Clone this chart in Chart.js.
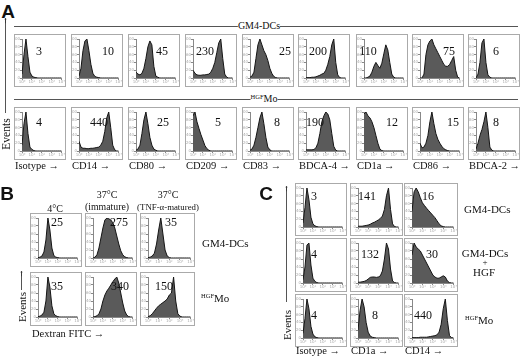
<!DOCTYPE html>
<html>
<head>
<meta charset="utf-8">
<script src="https://cdn.jsdelivr.net/npm/chart.js@4.4.1/dist/chart.umd.min.js"></script>
<style>
body { margin:0; width:520px; height:358px; position:relative; background:#fff; overflow:hidden; font-family:"Liberation Serif", "Times New Roman", serif; color:#111; }
.box { position:absolute; border:1px solid #aaa; box-sizing:border-box; background:#fff; }
.box canvas { display:block; }
.t { position:absolute; white-space:nowrap; line-height:1; }
.hl { position:absolute; height:0; border-top:1px solid #555; }
.vl { position:absolute; width:0; border-left:1px solid #555; }
.letter { font-family:"Liberation Sans", Arial, sans-serif; font-weight:bold; font-size:19px; }
sup { font-size:6.5px; vertical-align:top; position:relative; top:0px; }
</style>
</head>
<body>
<script>
// log axis: 21 bins over 4 decades
const bins = [0,1,2,3,4,5,6,7,8,9,10,11,12,13,14,15,16,17,18,19,20]
const decades = ['10⁰','10¹','10²','10³','10⁴']

// ---- panel A ----
const aMarkers = ['Isotype','CD14','CD80','CD209','CD83','BDCA-4','CD1a','CD86','BDCA-2']
const aMfiGM4 = [3,10,45,230,25,200,110,75,6]
const aMfiHGFMo = [4,440,25,5,8,190,12,15,8]

const gm4Isotype = [10,60,100,55,15,5,2,1,0,0,0,0,0,0,0,0,0,0,0,0,0]
const gm4CD14    = [5,25,70,95,100,70,35,12,4,2,1,0,0,0,0,0,0,0,0,0,0]
const gm4CD80    = [15,10,8,12,25,50,80,95,85,30,5,2,0,0,0,0,0,0,0,0,0]
const gm4CD209   = [20,12,8,7,7,8,8,9,10,15,25,40,65,90,100,50,10,2,0,0,0]
const gm4CD83    = [2,5,15,50,85,100,85,70,60,45,25,12,4,1,0,0,0,0,0,0,0]
const gm4BDCA4   = [1,1,1,2,2,3,5,7,10,12,20,35,55,85,100,40,8,1,0,0,0]
const gm4CD1a    = [0,0,2,5,15,30,40,32,25,38,62,85,72,40,10,2,0,0,0,0,0]
const gm4CD86    = [0,0,10,60,85,95,100,85,75,65,55,45,35,30,30,35,45,55,20,2,0]
const gm4BDCA2   = [0,10,40,90,100,40,8,2,0,0,0,0,0,0,0,0,0,0,0,0,0]

const hgfIsotype = [15,70,100,45,10,4,1,0,0,0,0,0,0,0,0,0,0,0,0,0,0]
const hgfCD14    = [25,10,7,7,6,6,7,7,8,9,10,15,25,50,85,100,60,15,3,0,0]
const hgfCD80    = [2,5,15,45,80,100,70,35,15,5,2,0,0,0,0,0,0,0,0,0,0]
const hgfCD209   = [90,100,75,58,42,28,14,6,2,0,0,0,0,0,0,0,0,0,0,0,0]
const hgfCD83    = [2,5,15,35,60,85,100,70,35,10,3,0,0,0,0,0,0,0,0,0,0]
const hgfBDCA4   = [3,3,3,3,4,8,20,45,75,90,100,95,80,45,12,2,0,0,0,0,0]
const hgfCD1a    = [95,100,90,85,75,60,40,20,5,1,0,0,0,0,0,0,0,0,0,0,0]
const hgfCD86    = [20,8,10,20,40,75,100,70,45,30,20,12,6,3,1,0,0,0,0,0,0]
const hgfBDCA2   = [5,20,40,55,75,100,60,10,2,0,0,0,0,0,0,0,0,0,0,0,0]

// ---- panel B ----
const bConditions = [['4°C'], ['37°C','(immature)'], ['37°C','(TNF-α-matured)']]
const bMfiGM4 = [25,275,35]
const bMfiHGFMo = [35,340,150]
const bGM4cold   = [1,2,5,15,45,100,70,25,6,2,1,0,0,0,0,0,0,0,0,0,0]
const bGM4imm    = [0,2,8,25,50,75,95,100,98,95,88,75,55,35,18,8,3,1,0,0,0]
const bGM4tnf    = [1,2,5,12,35,70,100,60,20,5,1,0,0,0,0,0,0,0,0,0,0]
const bHGFcold   = [1,2,5,12,40,100,75,28,8,3,1,0,0,0,0,0,0,0,0,0,0]
const bHGFimm    = [0,1,3,8,20,40,55,65,72,80,88,95,100,85,60,35,15,5,1,0,0]
const bHGFtnf    = [1,3,8,15,22,28,32,36,40,45,55,60,100,40,8,2,0,0,0,0,0]

// ---- panel C ----
const cMarkers = ['Isotype','CD1a','CD14']
const cMfiGM4 = [3,141,16]
const cMfiGM4HGF = [4,132,30]
const cMfiHGFMo = [4,8,440]
const cGM4Isotype = [10,50,100,70,25,8,3,1,0,0,0,0,0,0,0,0,0,0,0,0,0]
const cGM4CD1a    = [2,2,2,3,4,5,7,10,12,15,18,22,28,45,80,100,45,8,1,0,0]
const cGM4CD14    = [40,90,100,90,75,62,55,48,42,36,30,24,16,8,3,1,0,0,0,0,0]
const cHGFIsotype = [8,40,95,100,45,12,4,1,0,0,0,0,0,0,0,0,0,0,0,0,0]
const cHGFCD1a    = [2,2,3,4,6,10,14,15,15,14,15,18,30,60,100,85,35,5,1,0,0]
const cHGFCD14    = [70,100,90,85,80,70,60,50,40,30,20,15,12,12,15,18,15,5,1,0,0]
const cMoIsotype  = [12,50,100,75,30,10,3,1,0,0,0,0,0,0,0,0,0,0,0,0,0]
const cMoCD1a     = [20,70,100,80,40,15,5,2,1,0,0,0,0,0,0,0,0,0,0,0,0]
const cMoCD14     = [1,1,1,1,2,2,2,2,3,4,5,6,8,15,35,75,100,45,6,1,0]

function el(cls, css, html) {
  const d = document.createElement('div')
  d.className = cls
  Object.assign(d.style, css)
  if (html !== undefined) d.innerHTML = html
  document.body.appendChild(d)
  return d
}
// centred text
function ctext(s, x, y, size) {
  return el('t', {left: x+'px', top: y+'px', fontSize: size+'px', transform: 'translate(-50%,-50%)'}, s)
}
// left aligned text, vertically centred
function ltext(s, x, y, size) {
  return el('t', {left: x+'px', top: y+'px', fontSize: size+'px', transform: 'translateY(-50%)'}, s)
}

function hist(x, y, w, h, vals) {
  const box = el('box', {left: x+'px', top: y+'px', width: w+'px', height: h+'px'})
  const cv = document.createElement('canvas')
  cv.width = w - 2
  cv.height = h - 2
  box.appendChild(cv)
  const tiny = { size: 4, family: 'DejaVu Sans' }
  new Chart(cv, {
    type: 'line',
    data: {
      labels: bins,
      datasets: [{
        data: vals,
        fill: 'origin',
        backgroundColor: '#5a5a5a',
        borderColor: '#151515',
        borderWidth: 1,
        pointRadius: 0,
        tension: 0
      }]
    },
    options: {
      responsive: false,
      animation: false,
      devicePixelRatio: 1,
      layout: { padding: { top: 4, right: 2, left: 0, bottom: 0 } },
      plugins: { legend: { display: false }, tooltip: { enabled: false } },
      scales: {
        x: {
          type: 'linear', min: 0, max: 20,
          border: { color: '#888' },
          grid: { drawOnChartArea: false, tickLength: 2, color: '#888' },
          ticks: { stepSize: 5, font: tiny, color: '#aaa', padding: 0, maxRotation: 0, autoSkip: false,
                   callback: v => decades[v / 5] },
          afterFit: s => { s.height = 8 }
        },
        y: {
          min: 0, max: 100,
          border: { color: '#888' },
          grid: { drawOnChartArea: false, tickLength: 2, color: '#888' },
          ticks: { stepSize: 20, font: tiny, color: '#aaa', padding: 0, autoSkip: false },
          afterFit: s => { s.width = 7 }
        }
      }
    }
  })
}

// ---------- panel A ----------
ctext('A', 8, 11).className = 't letter'
el('hl', {left: '14px', top: '26px', width: '504px'})
ctext('GM4-DCs', 259, 26, 10).style.background = '#fff'
el('hl', {left: '14px', top: '99px', width: '504px'})
ctext('<sup>HGF</sup>Mo', 264, 99, 10).style.background = '#fff'

const aBoxX = [14,71,128,185,242,298,356,412,468]
const aRowY = [34,107]
const aNumX = [[39,108,162,205,285,318,368,449,496],[39,99,163,218,277,315,392,453,496]]
const aNumY = [51,122]
const aRows = [
  [gm4Isotype, gm4CD14, gm4CD80, gm4CD209, gm4CD83, gm4BDCA4, gm4CD1a, gm4CD86, gm4BDCA2],
  [hgfIsotype, hgfCD14, hgfCD80, hgfCD209, hgfCD83, hgfBDCA4, hgfCD1a, hgfCD86, hgfBDCA2]
]
const aMfi = [aMfiGM4, aMfiHGFMo]
for (let r = 0; r < 2; r++) {
  for (let i = 0; i < 9; i++) {
    hist(aBoxX[i], aRowY[r], 52, 53, aRows[r][i])
    ctext(String(aMfi[r][i]), aNumX[r][i], aNumY[r], 12)
  }
}
aMarkers.forEach((m, i) => ltext(m + ' →', aBoxX[i] + 1, 166, 10.5))
// Events axis A
el('vl', {left: '5px', top: '19px', height: '94px'})
ctext('↑', 5.5, 20, 9)
ctext('Events', 7, 134, 11.5).style.transform = 'translate(-50%,-50%) rotate(-90deg)'

// ---------- panel B ----------
ctext('B', 7, 193).className = 't letter'
const bBoxX = [30,85,140]
const bBoxW = [52,52,55]
const bRowY = [213,272]
const bNumX = [[57,119,171],[57,120,164]]
const bNumY = [222,286]
const bRows = [[bGM4cold, bGM4imm, bGM4tnf], [bHGFcold, bHGFimm, bHGFtnf]]
const bMfi = [bMfiGM4, bMfiHGFMo]
const bHeadX = [55,107,168]
bConditions.forEach((c, i) => {
  if (c.length === 1) ctext(c[0], bHeadX[i], 209, 10)
  else {
    ctext(c[0], bHeadX[i], 195, 10)
    ctext(c[1], bHeadX[i], 207, i === 2 ? 8.8 : 9.8)
  }
})
for (let r = 0; r < 2; r++) {
  for (let i = 0; i < 3; i++) {
    hist(bBoxX[i], bRowY[r], bBoxW[i], 54, bRows[r][i])
    ctext(String(bMfi[r][i]), bNumX[r][i], bNumY[r], 12)
  }
}
ltext('GM4-DCs', 202, 243, 11)
ltext('<sup>HGF</sup>Mo', 201, 298, 11)
ltext('Dextran FITC →', 32, 334, 10.5)
el('vl', {left: '21px', top: '272px', height: '18px'})
ctext('↑', 21.5, 273, 9)
ctext('Events', 22, 307, 11).style.transform = 'translate(-50%,-50%) rotate(-90deg)'

// ---------- panel C ----------
ctext('C', 266, 193).className = 't letter'
const cBoxX = [295,350,404]
const cBoxW = [52,53,54]
const cRowY = [183,238,294]
const cRowH = [53,54,53]
const cNumX = [[314,367,428],[314,370,432],[314,375,423]]
const cNumY = [196,254,315]
const cRows = [
  [cGM4Isotype, cGM4CD1a, cGM4CD14],
  [cHGFIsotype, cHGFCD1a, cHGFCD14],
  [cMoIsotype, cMoCD1a, cMoCD14]
]
const cMfi = [cMfiGM4, cMfiGM4HGF, cMfiHGFMo]
for (let r = 0; r < 3; r++) {
  for (let i = 0; i < 3; i++) {
    hist(cBoxX[i], cRowY[r], cBoxW[i], cRowH[r], cRows[r][i])
    ctext(String(cMfi[r][i]), cNumX[r][i], cNumY[r], 12)
  }
}
ltext('GM4-DCs', 464, 209, 11)
ctext('GM4-DCs', 485, 253, 11)
ctext('+', 485, 262, 9)
ctext('HGF', 484, 272, 11)
ltext('<sup>HGF</sup>Mo', 465, 320, 11)
cMarkers.forEach((m, i) => ltext(m + ' →', cBoxX[i] + 1, 351, 10.5))
el('vl', {left: '286px', top: '187px', height: '115px'})
ctext('↑', 286.5, 188, 9)
ctext('Events', 287, 325, 11).style.transform = 'translate(-50%,-50%) rotate(-90deg)'
</script>
</body>
</html>
